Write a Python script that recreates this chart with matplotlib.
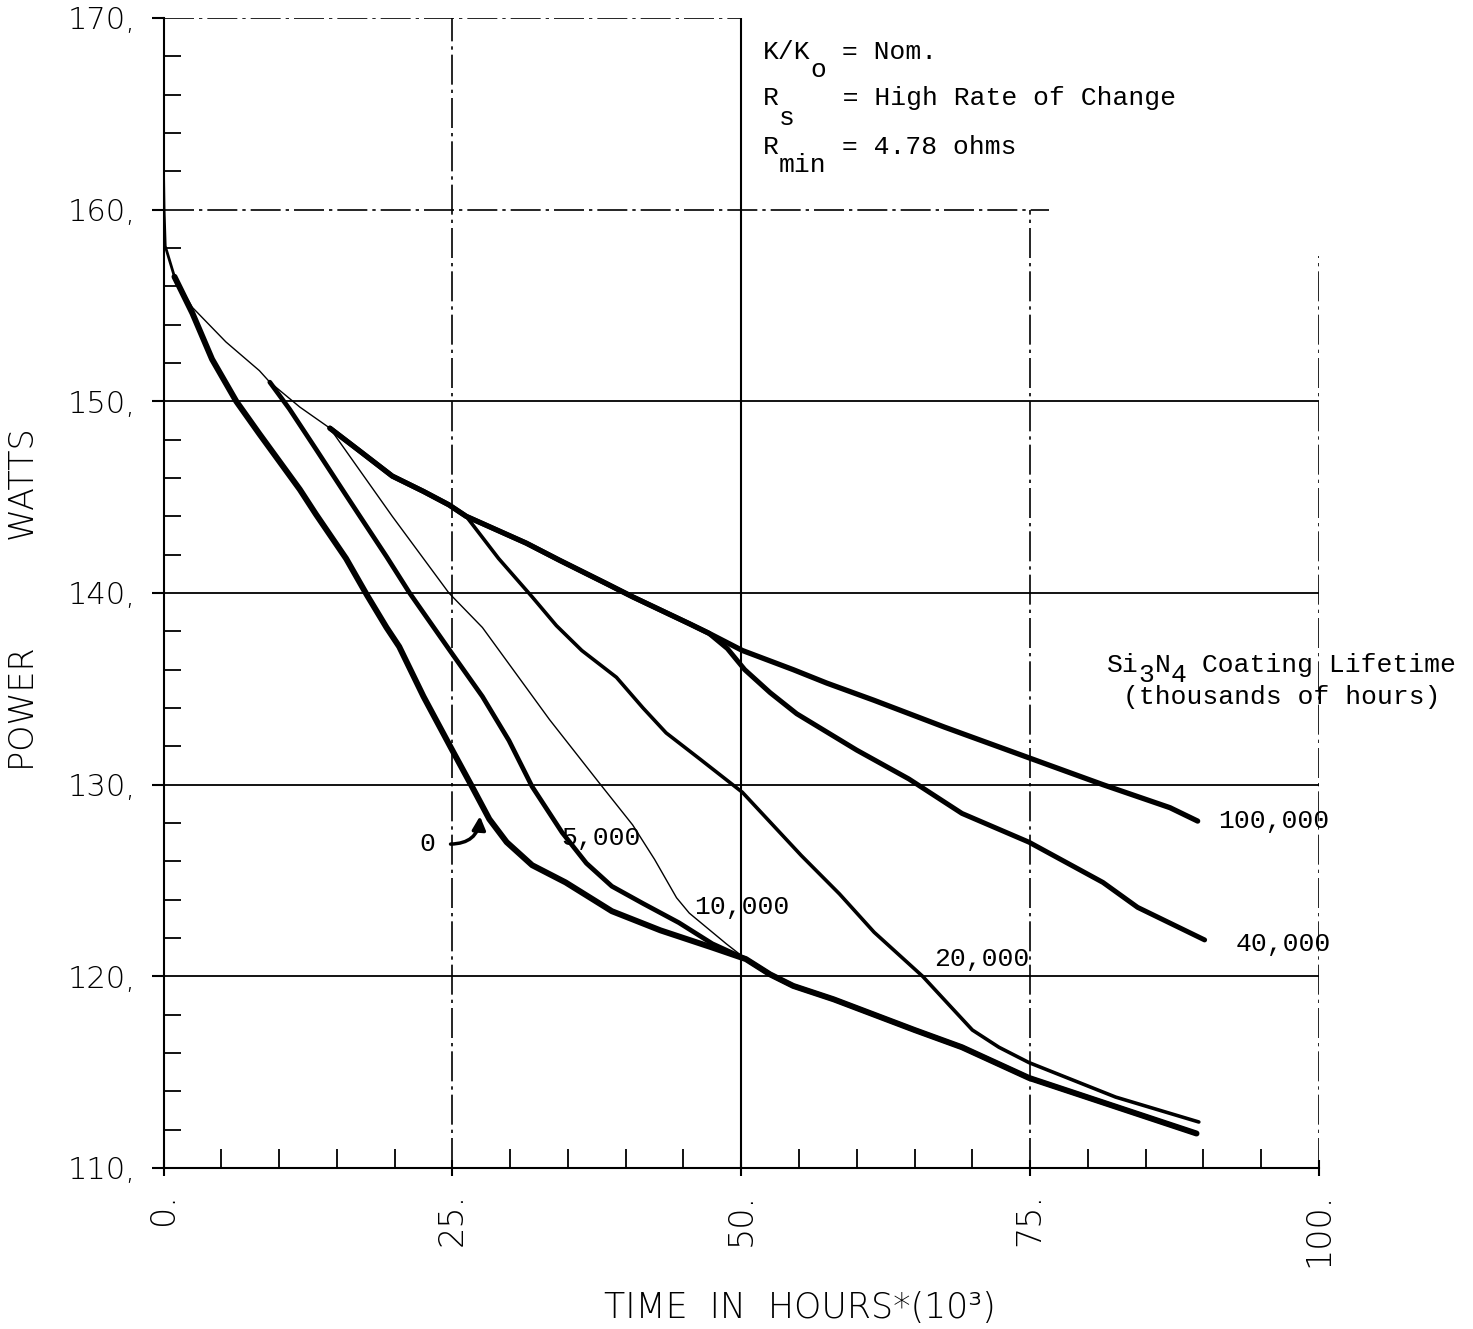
import numpy as np
import matplotlib.pyplot as plt

# shared pieces of the curves (time in 1000 h, power in W)
head_x = [0.0, 0.05, 0.15, 0.95]
head_y = [162.0, 160.0, 158.1, 156.5]
trunk_x = [0.95, 2.5, 5.4, 8.3, 9.2, 11.8, 14.4]
trunk_y = [156.5, 154.9, 153.1, 151.6, 151.0, 149.7, 148.6]
tail_x = [50.4, 52.5, 54.5, 58.0, 61.5, 65.0, 69.1, 74.9, 82.4, 89.4]
tail_y = [120.9, 120.1, 119.5, 118.8, 118.0, 117.2, 116.3, 114.7, 113.2, 111.8]

# lifetime 0
c0_x = [0.95, 2.5, 4.2, 6.3, 8.3, 11.8, 13.2, 15.8, 17.6, 19.3, 20.4, 22.5,
        24.9, 26.7, 28.2, 29.7, 31.9, 34.8, 38.8, 43.0, 47.5]
c0_y = [156.5, 154.6, 152.2, 150.0, 148.3, 145.4, 144.1, 141.8, 139.9, 138.2,
        137.2, 134.6, 131.9, 129.9, 128.2, 127.0, 125.8, 124.9, 123.4, 122.4, 121.5]
# 5,000
c5_x = [9.2, 10.9, 13.2, 15.8, 17.0, 19.3, 21.3, 24.9, 27.6, 29.9, 31.9,
        34.5, 36.6, 38.8, 41.5, 44.6, 47.5]
c5_y = [151.0, 149.6, 147.5, 145.1, 144.0, 141.9, 140.0, 136.9, 134.6, 132.3,
        129.9, 127.5, 125.9, 124.7, 123.8, 122.8, 121.7]
# 10,000
c10_x = [14.4, 19.8, 24.7, 27.6, 30.5, 33.4, 37.7, 40.6, 42.5, 44.4, 45.5, 47.5, 48.7]
c10_y = [148.6, 144.0, 140.0, 138.2, 135.8, 133.4, 130.1, 127.9, 126.1, 124.1, 123.3,
         122.3, 121.7]
# common branch of 20,000 / 40,000 / 100,000
br_x = [14.4, 17.0, 19.8, 22.5, 24.7, 26.2]
br_y = [148.6, 147.4, 146.1, 145.3, 144.6, 144.0]
c20_x = [26.2, 29.0, 31.9, 34.0, 36.2, 39.2, 41.5, 43.5, 46.5, 50.1, 55.2, 58.5,
         61.5, 65.7, 68.0, 70.0, 72.3, 74.9, 82.4, 89.6]
c20_y = [144.0, 141.8, 139.8, 138.3, 137.0, 135.6, 134.0, 132.7, 131.3, 129.6, 126.3,
         124.3, 122.3, 120.0, 118.5, 117.2, 116.3, 115.5, 113.7, 112.4]
br2_x = [26.2, 31.4, 34.3, 38.3, 40.6, 45.5, 47.2]
br2_y = [144.0, 142.6, 141.7, 140.5, 139.8, 138.4, 137.9]
c40_x = [47.2, 48.8, 50.3, 52.5, 54.8, 60.0, 64.5, 69.1, 74.9, 81.3, 84.3, 90.1]
c40_y = [137.9, 137.1, 136.0, 134.8, 133.7, 131.8, 130.3, 128.5, 127.0, 124.9,
         123.6, 121.9]
c100_x = [47.2, 50.1, 54.5, 57.4, 61.5, 67.6, 74.9, 81.3, 87.1, 89.5]
c100_y = [137.9, 137.0, 136.0, 135.3, 134.4, 133.0, 131.4, 130.0, 128.8, 128.1]

yticks = [110, 120, 130, 140, 150, 160, 170]
xticks = [0, 25, 50, 75, 100]

W, H = 1473, 1329
fig = plt.figure(figsize=(W / 100, H / 100), dpi=100)
ax = fig.add_axes([163.5 / W, 1 - 1168 / H, (1319 - 163.5) / W, (1168 - 18) / H])
ax.set_xlim(0, 100)
ax.set_ylim(110, 170)

# grid, drawn by hand like the plotter did
dash = (0, (18, 3, 2, 3))
ax.hlines([120, 130, 140, 150], 0, 100, color='k', lw=1.3, zorder=1)
ax.hlines(160, 0, 76.6, color='k', lw=1.2, ls=dash, zorder=1)
ax.hlines(170, 0, 50, color='k', lw=1.2, ls=dash, zorder=1)
ax.vlines(25, 110, 170, color='k', lw=1.2, ls=dash, zorder=1)
ax.vlines(50, 110, 170, color='k', lw=1.5, zorder=1)
ax.vlines(75, 110, 160, color='k', lw=1.2, ls=dash, zorder=1)
ax.vlines(100, 110, 157.6, color='k', lw=1.2, ls=dash, zorder=1)

ax.plot(head_x, head_y, color='k', lw=2.0, solid_capstyle='round')
thin_x = trunk_x + c10_x[1:] + tail_x
thin_y = trunk_y + c10_y[1:] + tail_y
ax.plot(thin_x, thin_y, color='k', lw=1.0, solid_capstyle='round')
ax.plot(c0_x + tail_x, c0_y + tail_y, color='k', lw=4.3, solid_capstyle='round')
ax.plot(c5_x + tail_x, c5_y + tail_y, color='k', lw=3.4, solid_capstyle='round')
ax.plot(br_x + c20_x[1:], br_y + c20_y[1:], color='k', lw=2.6, solid_capstyle='round')
ax.plot(br_x + br2_x[1:] + c40_x[1:], br_y + br2_y[1:] + c40_y[1:], color='k', lw=3.6,
        solid_capstyle='round')
ax.plot(br_x + br2_x[1:] + c100_x[1:], br_y + br2_y[1:] + c100_y[1:], color='k', lw=3.8,
        solid_capstyle='round')

for s in ['top', 'right']:
    ax.spines[s].set_visible(False)
ax.spines['left'].set_linewidth(1.5)
ax.spines['bottom'].set_linewidth(1.5)

tick_font = dict(family='DejaVu Sans', weight='light', size=22)
ax.set_yticks(yticks)
ax.set_yticklabels([f'{v},' for v in yticks], fontdict=tick_font)
ax.set_xticks(xticks)
ax.set_xticklabels([f'{v}.' for v in xticks], fontdict=dict(tick_font, size=24), rotation=90)
ax.set_yticks(np.arange(112, 170, 2), minor=True)
ax.set_xticks(np.arange(5, 100, 5), minor=True)
ax.tick_params(axis='y', which='major', direction='out', length=9, width=1.5, pad=11)
ax.tick_params(axis='y', which='minor', direction='in', length=12, width=1.3)
ax.tick_params(axis='x', which='major', direction='inout', length=12, width=1.5, pad=12)
ax.tick_params(axis='x', which='minor', direction='in', length=14, width=1.3)

fig.text(25 / W, 1 - 600 / H, 'POWER          WATTS', rotation=90, ha='center', va='center',
         family='DejaVu Sans', weight='light', size=24)
fig.text(800 / W, 1 - 1308 / H, 'TIME  IN  HOURS*(10³)', ha='center', va='center',
         family='DejaVu Sans', weight='light', size=25)

mono = dict(family='Liberation Mono', size=19)
cw = 0.6 * 19 * 100 / 72  # character width in px


def px_text(x, y, parts):
    # parts: list of (text, drop in px); monospaced, so advance by char count
    for txt, dy in parts:
        fig.text(x / W, 1 - (y + dy) / H, txt, ha='left', va='center', **mono)
        x += len(txt) * cw


px_text(763, 52, [('K/K', 0), ('o', 18), (' = Nom.', 0)])
px_text(763, 98, [('R', 0), ('s', 20), ('   = High Rate of Change', 0)])
px_text(763, 147, [('R', 0), ('min', 18), (' = 4.78 ohms', 0)])
px_text(1107, 665, [('Si', 0), ('3', 10), ('N', 0), ('4', 10), (' Coating Lifetime', 0)])
px_text(1123, 697, [('(thousands of hours)', 0)])

ax.text(22.8, 126.9, '0', ha='center', va='center', **mono)
ax.annotate('', xy=(27.4, 128.5), xytext=(24.6, 126.9),
            arrowprops=dict(arrowstyle='-|>', color='k', lw=2.5, mutation_scale=20,
                            connectionstyle='arc3,rad=0.5'))
ax.text(34.4, 127.2, '5,000', ha='left', va='center', **mono)
ax.text(45.9, 123.6, '10,000', ha='left', va='center', **mono)
ax.text(66.7, 120.9, '20,000', ha='left', va='center', **mono)
ax.text(91.3, 128.1, '100,000', ha='left', va='center', **mono)
ax.text(92.8, 121.7, '40,000', ha='left', va='center', **mono)

fig.savefig('out.png', dpi=100)
